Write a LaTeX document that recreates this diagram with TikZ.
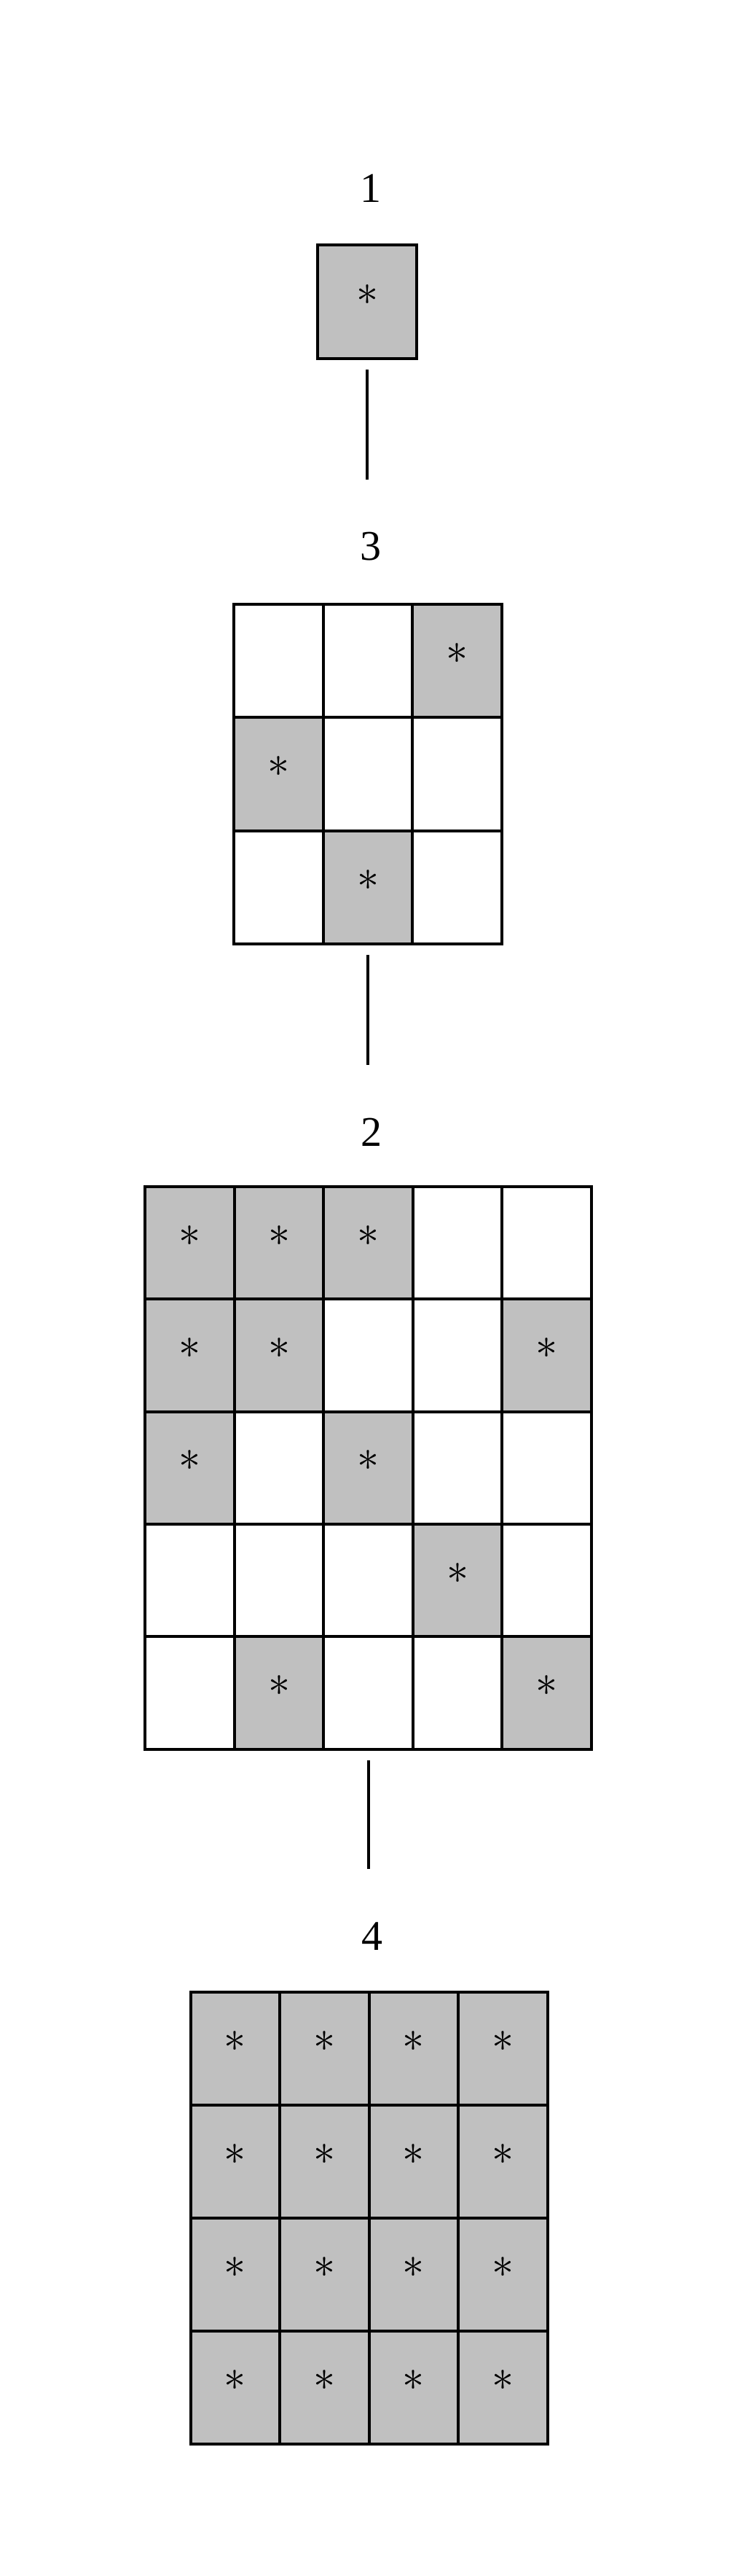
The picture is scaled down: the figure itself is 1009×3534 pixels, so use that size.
\documentclass[tikz,border=0pt]{standalone}
\usepackage{fontspec}
\setmainfont{Liberation Serif}
\definecolor{cellgray}{RGB}{192,192,192}
\tikzset{
  cellbox/.style={draw=black, line width=4pt, rectangle, minimum width=122.5pt, minimum height=155pt, inner sep=0pt, outer sep=0pt},
  onCell/.style={cellbox, fill=cellgray},
  offCell/.style={cellbox, fill=white},
  starmark/.style={anchor=base, inner sep=0pt, scale=6},
  numlabel/.style={inner sep=0pt, font=\fontsize{58}{60}\selectfont},
  conn/.style={line width=4pt, shorten <=15pt, shorten >=92pt},
}
\newcommand{\mygrid}[5]{% name, x0, y0, cell height, rows
  \foreach \pat [count=\r] in {#5} {
    \foreach \v [count=\c] in \pat {
      \ifnum\v=1
        \node[onCell, minimum height=#4pt] (#1-\r-\c) at ({#2+(\c-0.5)*122.5},{#3+(\r-0.5)*#4}) {};
        \node[starmark] (#1-\r-\c-s) at ([yshift=-4pt]#1-\r-\c.center) {$\ast$};
      \else
        \node[offCell, minimum height=#4pt] (#1-\r-\c) at ({#2+(\c-0.5)*122.5},{#3+(\r-0.5)*#4}) {};
      \fi
    }
  }
}
\begin{document}
\begin{tikzpicture}[x=1pt,y=-1pt]
\useasboundingbox (0,0) rectangle (1009,3534);
% labels
\node[numlabel] (L1) at (509,258) {1};
\node[numlabel] (L3) at (509,750) {3};
\node[numlabel] (L2) at (510,1553) {2};
\node[numlabel] (L4) at (511,2656) {4};
% grid 1
\node[onCell, minimum width=136pt, minimum height=156pt] (A-1-1) at (504,414) {};
\node[starmark] (A-1-1-s) at ([yshift=-4pt]A-1-1.center) {$\ast$};
% grid 3
\mygrid{B}{321.25}{829}{155.3}{{0,0,1},{1,0,0},{0,1,0}}
% grid 2
\mygrid{C}{199.25}{1628}{154.3}{{1,1,1,0,0},{1,1,0,0,1},{1,0,1,0,0},{0,0,0,1,0},{0,1,0,0,1}}
% grid 4
\mygrid{D}{261.5}{2733}{155}{{1,1,1,1},{1,1,1,1},{1,1,1,1},{1,1,1,1}}
% connectors
\draw[conn] (A-1-1.south) -- (A-1-1.south |- L3.center);
\draw[conn] (B-3-2.south) -- (B-3-2.south |- L2.center);
\draw[conn] (C-5-3.south) -- (C-5-3.south |- L4.center);
\end{tikzpicture}
\end{document}
